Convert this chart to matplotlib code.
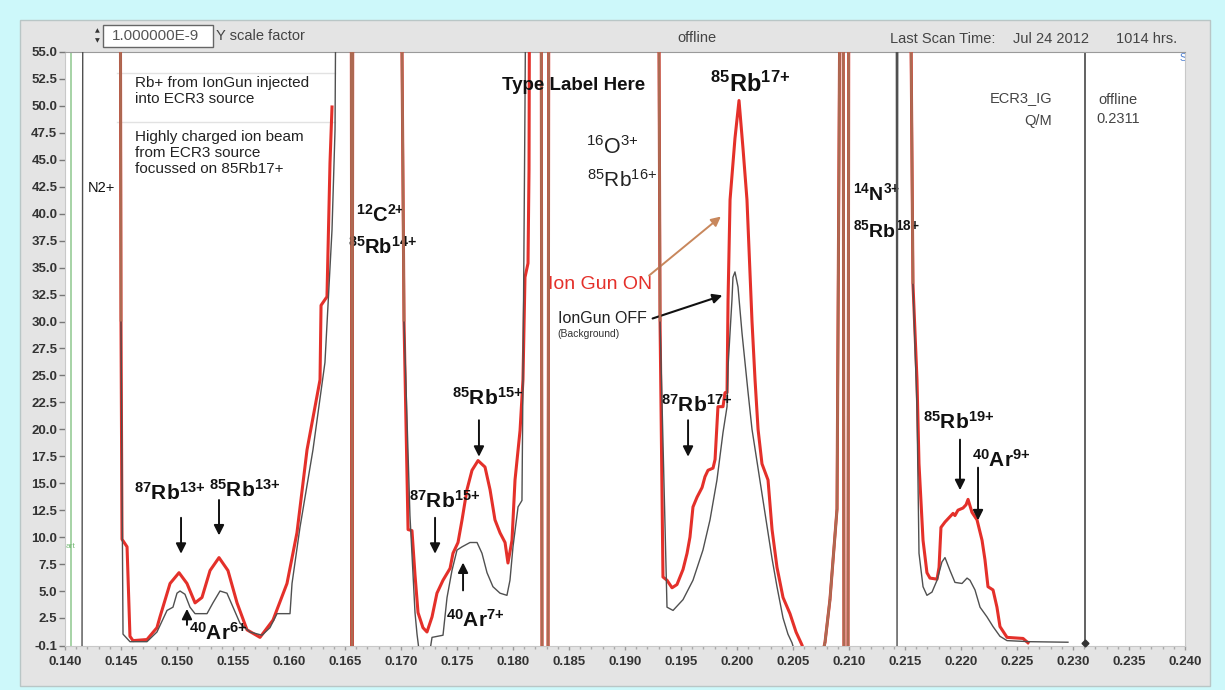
import numpy as np
import matplotlib
matplotlib.use('Agg')
import matplotlib.pyplot as plt
from matplotlib.patches import Rectangle
from matplotlib.collections import LineCollection

plt.rcParams['font.family'] = ['Liberation Sans', 'DejaVu Sans']
plt.rcParams['mathtext.fontset'] = 'custom'
plt.rcParams['mathtext.rm'] = 'Liberation Sans'
plt.rcParams['mathtext.bf'] = 'Liberation Sans:bold'
plt.rcParams['mathtext.it'] = 'Liberation Sans:italic'

OFF = 80.0   # saturated peak (off scale)
LOW = -1.0   # below the axis floor

# ---- data: Q/M (x) versus beam current (y, x1e-9) ----
ion_gun_on = [
    (0.14491, OFF), (0.14500, 30.0), (0.14509, 9.8), (0.14554, 9.1), (0.14580, 0.8), (0.14607, 0.4),
    (0.14732, 0.5), (0.14821, 1.6), (0.14848, 2.6), (0.14938, 5.7), (0.15018, 6.7),
    (0.15089, 5.7), (0.15161, 3.9), (0.15223, 4.4), (0.15295, 6.9), (0.15375, 8.1),
    (0.15455, 6.9), (0.15536, 3.9), (0.15625, 1.4), (0.15741, 0.7), (0.15857, 2.3),
    (0.15982, 5.7), (0.16071, 10.4), (0.16161, 18.1), (0.16277, 24.6), (0.16286, 31.5),
    (0.16339, 32.3), (0.16366, 44.7), (0.16384, 49.9), (0.16450, np.nan),
    (0.16554, OFF), (0.16563, LOW), (0.16571, OFF), (0.16991, OFF), (0.17027, 30.0),
    (0.17063, 10.7), (0.17098, 10.6), (0.17125, 6.5), (0.17152, 3.0), (0.17196, 1.6),
    (0.17232, 1.2), (0.17277, 2.6), (0.17321, 4.8), (0.17375, 6.0), (0.17438, 7.1),
    (0.17464, 8.5), (0.17509, 9.5), (0.17545, 11.6), (0.17589, 14.4), (0.17634, 16.2),
    (0.17688, 17.1), (0.17750, 16.5), (0.17795, 14.4), (0.17839, 11.6), (0.17884, 10.4),
    (0.17929, 9.5), (0.17955, 7.6), (0.17991, 9.7), (0.18018, 15.3), (0.18063, 19.9),
    (0.18089, 24.6), (0.18107, 34.1), (0.18134, 35.4), (0.18143, 44.1), (0.18152, OFF),
    (0.18250, OFF), (0.18259, LOW), (0.18313, LOW), (0.18321, OFF), (0.19295, OFF),
    (0.19313, 30.0), (0.19339, 6.3), (0.19375, 6.0), (0.19420, 5.3), (0.19464, 5.6), (0.19518, 7.0),
    (0.19554, 8.5), (0.19580, 10.0), (0.19607, 12.8), (0.19643, 13.7), (0.19688, 14.6),
    (0.19714, 15.6), (0.19741, 16.2), (0.19786, 16.4), (0.19804, 17.2), (0.19830, 22.1),
    (0.19875, 22.1), (0.19893, 23.4), (0.19911, 23.4), (0.19920, 32.0), (0.19938, 41.3),
    (0.19982, 47.0), (0.20018, 50.5), (0.20054, 46.0), (0.20089, 41.3), (0.20134, 30.0),
    (0.20161, 24.6), (0.20188, 20.0), (0.20223, 16.8), (0.20277, 15.3), (0.20313, 10.7),
    (0.20357, 7.2), (0.20411, 4.4), (0.20473, 2.9), (0.20527, 1.2), (0.20580, 0.0),
    (0.20607, LOW), (0.20759, LOW), (0.20786, 0.25), (0.20830, 4.2), (0.20893, 12.6),
    (0.20929, OFF), (0.20946, OFF), (0.20955, LOW), (0.20991, LOW), (0.21000, OFF),
    (0.21536, OFF), (0.21571, 33.5), (0.21607, 24.6), (0.21625, 16.8), (0.21634, 15.0),
    (0.21661, 9.7), (0.21696, 6.7), (0.21723, 6.2), (0.21786, 6.1), (0.21804, 7.2),
    (0.21821, 10.9), (0.21857, 11.4), (0.21902, 11.9), (0.21929, 12.2), (0.21946, 12.0),
    (0.21973, 12.5), (0.22018, 12.7), (0.22045, 13.0), (0.22063, 13.5), (0.22098, 12.3),
    (0.22143, 11.6), (0.22188, 9.7), (0.22214, 7.9), (0.22241, 5.4), (0.22286, 5.1),
    (0.22321, 3.5), (0.22348, 1.7), (0.22411, 0.7), (0.22554, 0.6), (0.22598, 0.2),
]

ion_gun_off = [
    (0.14000, LOW), (0.14152, LOW), (0.14161, OFF), (0.14491, OFF), (0.14500, 30.0), (0.14518, 1.0),
    (0.14580, 0.3), (0.14732, 0.3), (0.14821, 1.2), (0.14911, 3.2), (0.14964, 3.5),
    (0.15000, 4.8), (0.15027, 5.0), (0.15071, 4.7), (0.15116, 3.5), (0.15161, 2.9),
    (0.15268, 2.9), (0.15321, 3.9), (0.15384, 5.0), (0.15446, 4.8), (0.15500, 3.5),
    (0.15563, 2.0), (0.15652, 1.2), (0.15759, 0.9), (0.15830, 1.6), (0.15893, 2.9),
    (0.16009, 2.9), (0.16027, 5.7), (0.16098, 10.9), (0.16214, 18.1), (0.16321, 26.2),
    (0.16384, 38.5), (0.16411, 47.8), (0.16429, OFF), (0.16554, OFF), (0.16563, LOW),
    (0.16571, OFF), (0.16991, OFF), (0.17027, 30.0), (0.17080, 12.0), (0.17125, 3.0),
    (0.17143, 1.0), (0.17161, -0.5), (0.17259, -0.5), (0.17277, 0.7), (0.17375, 0.9),
    (0.17411, 4.4), (0.17455, 6.9), (0.17500, 8.8), (0.17545, 9.1), (0.17616, 9.5),
    (0.17679, 9.5), (0.17723, 8.5), (0.17768, 6.7), (0.17821, 5.4), (0.17884, 4.8),
    (0.17946, 4.6), (0.17973, 6.0), (0.18000, 9.1), (0.18045, 12.8), (0.18080, 13.4),
    (0.18089, 24.6), (0.18107, 50.0), (0.18125, OFF), (0.18250, OFF), (0.18259, LOW),
    (0.18313, LOW), (0.18321, OFF), (0.19295, OFF), (0.19313, 30.0), (0.19375, 3.5),
    (0.19429, 3.2), (0.19518, 4.2), (0.19607, 6.0), (0.19696, 8.8), (0.19759, 11.6),
    (0.19821, 15.3), (0.19875, 19.7), (0.19911, 22.1), (0.19920, 25.8), (0.19955, 32.0),
    (0.19964, 34.1), (0.19982, 34.6), (0.20009, 33.2), (0.20045, 28.9), (0.20098, 23.5),
    (0.20134, 20.0), (0.20179, 17.0), (0.20223, 14.0), (0.20268, 11.0), (0.20313, 8.0),
    (0.20357, 5.4), (0.20411, 2.5), (0.20455, 1.0), (0.20491, 0.2), (0.20527, LOW),
    (0.20759, LOW), (0.20786, 0.25), (0.20830, 4.2), (0.20893, 12.6), (0.20929, OFF),
    (0.20946, OFF), (0.20955, LOW), (0.20991, LOW), (0.21000, OFF), (0.21420, OFF),
    (0.21429, LOW), (0.21438, OFF), (0.21536, OFF), (0.21571, 33.5), (0.21607, 22.0),
    (0.21625, 8.5), (0.21661, 5.4), (0.21696, 4.6), (0.21741, 4.9), (0.21786, 6.0),
    (0.21830, 7.7), (0.21857, 8.1), (0.21902, 6.9), (0.21946, 5.8), (0.22009, 5.7),
    (0.22054, 6.2), (0.22080, 6.0), (0.22125, 5.1), (0.22170, 3.5), (0.22232, 2.6),
    (0.22286, 1.7), (0.22348, 0.8), (0.22411, 0.4), (0.22616, 0.3), (0.22955, 0.25),
]

cursor_qm = 0.2311
green_cursor = 0.14054
x_ticks = np.round(np.arange(0.140, 0.2401, 0.005), 3)
y_ticks = [-0.1] + [2.5 * k for k in range(1, 23)]

# ---- figure ----
W, H = 1225, 690
fig = plt.figure(figsize=(W / 100, H / 100), dpi=100, facecolor='#cdf8fa')
fig.patches.append(Rectangle((20 / W, 4 / H), 1190 / W, 666 / H, transform=fig.transFigure,
                             facecolor='#e4e4e4', edgecolor='#b9c6c6', lw=1, zorder=-5))

ax = fig.add_axes([65 / W, 1 - 646 / H, 1120 / W, 594 / H])
ax.set_zorder(5)
ax.set_facecolor('white')
ax.set_xlim(0.140, 0.240)
ax.set_ylim(-0.1, 55.0)

rx, ry = zip(*ion_gun_on)
gx, gy = zip(*ion_gun_off)
ax.plot(rx, ry, color='#e4302a', lw=2.2, zorder=3)
ax.plot(gx, gy, color='#505050', lw=1.0, zorder=4)

# segments shared by both scans (saturated edges) look brownish where they overlap
def segments(pts):
    out = set()
    for a, b in zip(pts[:-1], pts[1:]):
        if not (np.isnan(a[1]) or np.isnan(b[1])):
            out.add((a, b))
    return out

shared = sorted(segments(ion_gun_on) & segments(ion_gun_off))
ax.add_collection(LineCollection([list(s) for s in shared], colors='#ad6a52', linewidths=1.9, zorder=5))

ax.axvline(green_cursor, color='#9fd09f', lw=1.3, zorder=2)
ax.axvline(cursor_qm, color='#555555', lw=1.3, zorder=2)
ax.plot([cursor_qm], [0.2], marker='D', ms=3.5, color='#333333', zorder=5, clip_on=False)

ax.set_xticks(x_ticks)
ax.set_xticklabels([f'{v:.3f}' for v in x_ticks])
ax.set_xticks(np.round(np.arange(0.140, 0.2401, 0.001), 3), minor=True)
ax.set_yticks(y_ticks)
ax.set_yticklabels([f'{v:.1f}' for v in y_ticks])
for lab in ax.get_xticklabels() + ax.get_yticklabels():
    lab.set_fontweight('bold')
    lab.set_color('#333333')
    lab.set_fontsize(9.5)
ax.tick_params(axis='x', which='major', length=3, width=1, color='#999999', pad=4)
ax.tick_params(axis='x', which='minor', length=2, width=1, color='#aaaaaa')
ax.tick_params(axis='y', length=4, width=1, color='#777777', pad=1.5)
for s in ax.spines.values():
    s.set_color('#c8c8c8')
    s.set_linewidth(0.8)
ax.spines['top'].set_color('#9a9a9a')

# ---- header ----
def ftext(px, py, s, **kw):
    fig.text(px / W, 1 - py / H, s, **kw)

fig.patches.append(Rectangle((103 / W, 1 - 47 / H), 110 / W, 22 / H, transform=fig.transFigure,
                             facecolor='white', edgecolor='#666666', lw=1, zorder=1))
ftext(97.5, 31, '\u25b2', fontsize=4.5, color='#333', ha='center', va='center', family='DejaVu Sans')
ftext(97.5, 41, '\u25bc', fontsize=4.5, color='#333', ha='center', va='center', family='DejaVu Sans')
ftext(112, 36, '1.000000E-9', fontsize=11, color='#555555', va='center')
ftext(216, 36, 'Y scale factor', fontsize=10.5, color='#444444', va='center')
ftext(697, 38, 'offline', fontsize=10.5, color='#444444', va='center', ha='center')
ftext(890, 39, 'Last Scan Time:', fontsize=10.5, color='#444444', va='center')
ftext(1013, 39, 'Jul 24 2012', fontsize=10.5, color='#444444', va='center')
ftext(1116, 39, '1014 hrs.', fontsize=10.5, color='#444444', va='center')

# ---- text boxes on the plot ----
ax.plot([0.14464, 0.16411], [53.05, 53.05], color='#e2e2e2', lw=1, zorder=1)
ax.plot([0.14464, 0.16411], [48.5, 48.5], color='#e2e2e2', lw=1, zorder=1)
ax.text(0.14625, 52.75, 'Rb+ from IonGun injected\ninto ECR3 source', fontsize=11,
        color='#222222', va='top', ha='left', linespacing=1.2)
ax.text(0.14625, 47.8, 'Highly charged ion beam\nfrom ECR3 source\nfocussed on 85Rb17+',
        fontsize=11, color='#222222', va='top', ha='left', linespacing=1.2)
ax.text(0.14205, 42.4, 'N2+', fontsize=10.5, color='#111111', va='center', ha='left')
ax.text(0.1401, 9.1, 'art', fontsize=6, color='#77bb77', va='center', ha='left')

ax.text(0.22813, 50.7, 'ECR3_IG', fontsize=10.5, color='#444444', ha='right', va='center')
ax.text(0.22813, 48.6, 'Q/M', fontsize=10.5, color='#444444', ha='right', va='center')
ax.text(0.23400, 49.65, 'offline\n0.2311', fontsize=10.5, color='#444444', ha='center',
        va='center', linespacing=1.45, zorder=6,
        bbox=dict(facecolor='white', edgecolor='none', pad=3))
ax.text(0.23955, 54.9, 'St', fontsize=7.5, color='#5080d0', ha='left', va='top', clip_on=True)

def B(m, s, c):
    return r'$^{\mathbf{%s}}\mathbf{%s}^{\mathbf{%s{+}}}$' % (m, s, c)

def R(m, s, c):
    return r'$^{%s}\mathrm{%s}^{%s{+}}$' % (m, s, c)

ax.text(0.18545, 51.9, 'Type Label Here', fontsize=13.5, fontweight='bold', ha='center',
        va='center', color='#111111', zorder=6)
ax.text(0.20116, 52.0, B('85', 'Rb', '17'), fontsize=17, ha='center', va='center', color='#111')
ax.text(0.16813, 39.9, B('12', 'C', '2'), fontsize=14.5, ha='center', va='center', color='#111')
ax.text(0.16830, 36.9, B('85', 'Rb', '14'), fontsize=14.5, ha='center', va='center', color='#111')
ax.text(0.18884, 46.1, R('16', 'O', '3'), fontsize=15.5, ha='center', va='center', color='#222')
ax.text(0.18973, 43.1, R('85', 'Rb', '16'), fontsize=15, ha='center', va='center', color='#222')
ax.text(0.21036, 41.9, B('14', 'N', '3'), fontsize=14, ha='left', va='center', color='#111')
ax.text(0.21036, 38.5, B('85', 'Rb', '18'), fontsize=14, ha='left', va='center', color='#111')

ax.text(0.18313, 33.4, 'Ion Gun ON', fontsize=14, color='#e4302a', ha='left', va='center')
ax.text(0.18402, 30.3, 'IonGun OFF', fontsize=11.5, color='#222222', ha='left', va='center')
ax.text(0.18395, 28.8, '(Background)', fontsize=7.5, color='#333333', ha='left', va='center')
ax.annotate('', xy=(0.19875, 39.9), xytext=(0.19196, 34.1),
            arrowprops=dict(arrowstyle='-|>', color='#c8875c', lw=1.4, mutation_scale=14))
ax.annotate('', xy=(0.19893, 32.5), xytext=(0.19223, 30.2),
            arrowprops=dict(arrowstyle='-|>', color='#111111', lw=1.5, mutation_scale=14))

peak_labels = [
    (B('87', 'Rb', '13'), 0.14938, 14.1),
    (B('85', 'Rb', '13'), 0.15607, 14.4),
    (B('40', 'Ar', '6'), 0.15366, 1.1),
    (B('87', 'Rb', '15'), 0.17393, 13.4),
    (B('85', 'Rb', '15'), 0.17777, 22.9),
    (B('40', 'Ar', '7'), 0.17661, 2.3),
    (B('87', 'Rb', '17'), 0.19643, 22.3),
    (B('85', 'Rb', '19'), 0.21982, 20.7),
    (B('40', 'Ar', '9'), 0.22357, 17.2),
]
for s, x, y in peak_labels:
    ax.text(x, y, s, fontsize=15, ha='center', va='center', color='#111111', zorder=6)

arrows = [
    (0.15036, 12.05, 8.2), (0.15375, 13.7, 9.9), (0.15089, 1.6, 3.6),
    (0.17304, 12.05, 8.2), (0.17696, 21.1, 17.2), (0.17554, 4.8, 7.9),
    (0.19563, 21.1, 17.2), (0.21991, 19.3, 14.1), (0.22152, 16.7, 11.3),
]
for x, y0, y1 in arrows:
    ax.annotate('', xy=(x, y1), xytext=(x, y0),
                arrowprops=dict(arrowstyle='-|>', color='#111111', lw=1.4, mutation_scale=15))

fig.savefig('out.png', dpi=100, facecolor=fig.get_facecolor())
